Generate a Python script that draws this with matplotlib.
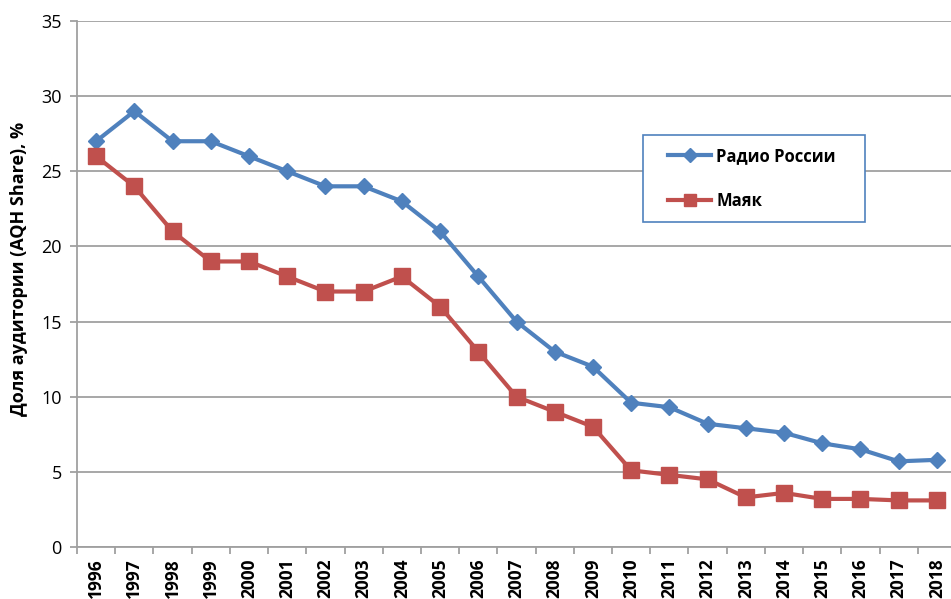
import matplotlib
matplotlib.use('Agg')
import matplotlib.pyplot as plt
from matplotlib.patches import Rectangle

plt.rcParams['font.family'] = ['Open Sans', 'DejaVu Sans']

years = [str(y) for y in range(1996, 2019)]
radio_rossii = [27, 29, 27, 27, 26, 25, 24, 24, 23, 21, 18, 15, 13, 12,
                9.6, 9.3, 8.2, 7.9, 7.6, 6.9, 6.5, 5.7, 5.8]
mayak = [26, 24, 21, 19, 19, 18, 17, 17, 18, 16, 13, 10, 9, 8,
         5.1, 4.8, 4.5, 3.3, 3.6, 3.2, 3.2, 3.1, 3.1]
y_ticks = [0, 5, 10, 15, 20, 25, 30, 35]

blue = '#4F81BD'
red = '#C0504D'
grid_c = '#A0A0A0'

W, H = 951, 599
fig = plt.figure(figsize=(W / 100, H / 100), dpi=100)
ax = fig.add_axes([77 / W, 1 - 547 / H, (956 - 77) / W, (547 - 21) / H])

x = list(range(len(years)))
ax.plot(x, radio_rossii, color=blue, lw=3, marker='D', ms=8,
        label='Радио России', zorder=3)
ax.plot(x, mayak, color=red, lw=3, marker='s', ms=11,
        label='Маяк', zorder=3)

ax.set_xlim(-0.5, len(years) - 0.5)
ax.set_ylim(0, 35)
ax.set_yticks(y_ticks)
ax.set_yticklabels([str(v) for v in y_ticks], fontsize=13)
ax.set_xticks(x)
ax.set_xticklabels(years, rotation=90, fontsize=12.5, fontweight='bold')
ax.set_xticks([i - 0.5 for i in range(len(years) + 1)], minor=True)
ax.tick_params(axis='x', which='major', length=0, pad=8)
ax.tick_params(axis='x', which='minor', length=5, color=grid_c, width=1.3)
ax.tick_params(axis='y', length=5, color=grid_c, width=1.3, pad=6)

ax.grid(axis='y', color=grid_c, lw=1.3)
ax.set_axisbelow(True)
for s in ['top', 'right']:
    ax.spines[s].set_visible(False)
for s in ['left', 'bottom']:
    ax.spines[s].set_color(grid_c)
    ax.spines[s].set_linewidth(1.3)

ax.set_ylabel('Доля аудитории (AQH Share), %', fontsize=13,
              fontweight='bold')
ax.yaxis.set_label_coords((28 - 77) / 879, (547 - 269) / 526)

# legend box drawn separately to match the original frame
box = Rectangle((643 / W, 1 - 222 / H), 222 / W, 87 / H,
                transform=fig.transFigure, facecolor='white',
                edgecolor=blue, lw=1.2, zorder=4, clip_on=False)
ax.add_patch(box)
leg = ax.legend(loc='upper left', bbox_to_anchor=(668 / W, 1 - 147 / H),
                bbox_transform=fig.transFigure, frameon=False,
                prop={'size': 12, 'weight': 'bold'}, borderpad=0,
                labelspacing=1.6, handlelength=2.6, handletextpad=0.3,
                borderaxespad=0, markerscale=0.85)
leg.set_zorder(5)

fig.savefig('out.png', dpi=100)
